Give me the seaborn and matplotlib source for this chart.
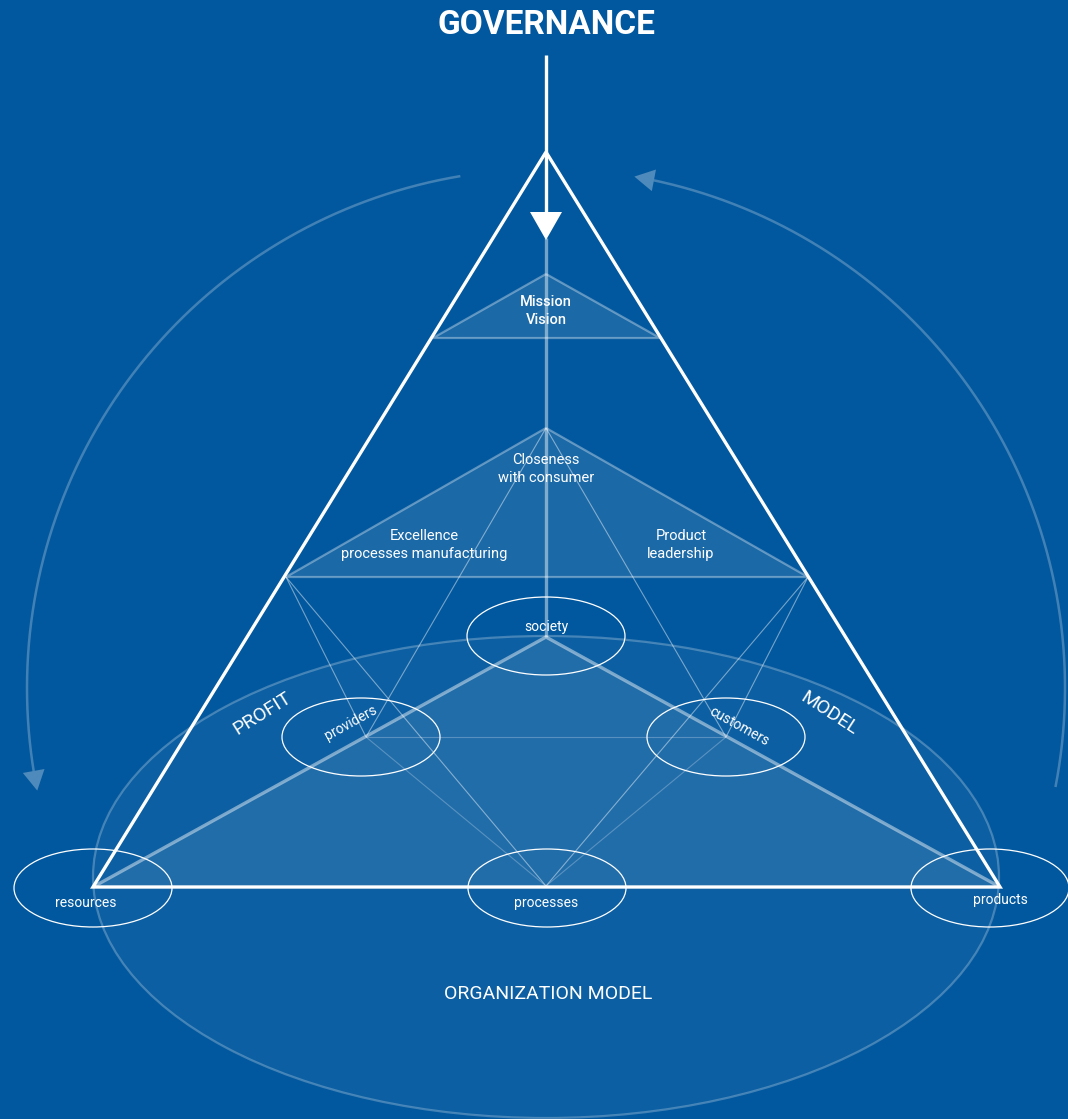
import numpy as np
import matplotlib
matplotlib.use("Agg")
import matplotlib.pyplot as plt
import seaborn as sns
from matplotlib.patches import Ellipse, Polygon

# Diagram geometry (pixel coords, y grows downwards)
outer_x = [546, 93, 1000]
outer_y = [152, 887, 887]

mission_x = [546, 433, 660]
mission_y = [274, 338, 338]

middle_x = [546, 286, 808]
middle_y = [428, 577, 577]

inner_x = [546, 93, 1000]
inner_y = [637, 887, 887]

node_names = ["society", "providers", "customers", "resources", "processes", "products"]
node_x = [546, 361, 726, 93, 547, 990]
node_y = [636, 737, 737, 888, 888, 888]

# where the hidden links meet (providers / customers points)
link_left = (366, 737)
link_right = (726, 737)
link_bottom = (546, 886)

label_x = [546, 351, 739, 86, 546, 1000]
label_y = [627, 723, 727, 903, 903, 900]
label_rot = [0, 29, -29, 0, 0, 0]

level_texts = ["Mission\nVision", "Closeness\nwith consumer",
               "Excellence\nprocesses manufacturing", "Product\nleadership"]
level_x = [546, 546, 424, 681]
level_y = [311, 469, 545, 545]

side_texts = ["PROFIT", "MODEL", "ORGANIZATION MODEL"]
side_x = [262, 829, 548]
side_y = [714, 713, 994]
side_rot = [32, -33, 0]

# cycle arrows around the pyramid (circle centre, radius, angles in degrees)
cycle_cx, cycle_cy, cycle_r = 546, 688, 519
left_arc = (99.5, 189.2, 191.4)   # start, arrow base, arrow tip
right_arc = (-11.0, 78.0, 80.2)

bg = "#02589E"

sns.set_theme(style="white")
plt.rcParams['font.family'] = ['Roboto', 'DejaVu Sans']
plt.rcParams['lines.solid_capstyle'] = 'butt'
plt.rcParams['lines.solid_joinstyle'] = 'miter'


def seg(ax, xs, ys, color="white", lw=1.0, alpha=1.0, z=3):
    sns.lineplot(x=xs, y=ys, sort=False, estimator=None, color=color,
                 linewidth=lw, alpha=alpha, ax=ax, zorder=z)


def closed(xs, ys):
    return list(xs) + [xs[0]], list(ys) + [ys[0]]


def arc_pts(a0, a1):
    t = np.radians(np.linspace(a0, a1, 300))
    return cycle_cx + cycle_r * np.cos(t), cycle_cy - cycle_r * np.sin(t)


def arrow_head(ax, a_base, a_tip, half=11, color="white", alpha=0.3):
    bx, by = arc_pts(a_base, a_base)
    tx, ty = arc_pts(a_tip, a_tip)
    bx, by, tx, ty = bx[0], by[0], tx[0], ty[0]
    d = np.array([tx - bx, ty - by])
    d = d / np.linalg.norm(d)
    n = np.array([-d[1], d[0]])
    pts = [(tx, ty), (bx + n[0] * half, by + n[1] * half), (bx - n[0] * half, by - n[1] * half)]
    ax.add_patch(Polygon(pts, closed=True, facecolor=color, alpha=alpha, edgecolor="none", zorder=2))


fig = plt.figure(figsize=(10.68, 11.19), dpi=100)
fig.patch.set_facecolor(bg)
ax = fig.add_axes([0, 0, 1, 1])
ax.set_facecolor(bg)

# organisation ellipse
ax.add_patch(Ellipse((546, 877), 906, 482, facecolor="white", alpha=0.045,
                     edgecolor="none", zorder=1))
ax.add_patch(Ellipse((546, 877), 906, 482, facecolor="none", edgecolor="white",
                     alpha=0.25, lw=1.6, zorder=1))

# inner (base) triangle
ax.add_patch(Polygon(list(zip(inner_x, inner_y)), closed=True, facecolor="white",
                     alpha=0.09, edgecolor="none", zorder=1))
seg(ax, [inner_x[1], inner_x[0], inner_x[2]], [inner_y[1], inner_y[0], inner_y[2]],
    lw=2.4, alpha=0.45, z=2)

# level triangles
for tx, ty in [(mission_x, mission_y), (middle_x, middle_y)]:
    ax.add_patch(Polygon(list(zip(tx, ty)), closed=True, facecolor="white",
                         alpha=0.1, edgecolor="none", zorder=1))
    cx, cy = closed(tx, ty)
    seg(ax, cx, cy, lw=1.6, alpha=0.35, z=2)

# thin construction links
thin = [
    (middle_x[1], middle_y[1], link_left[0], link_left[1], 0.45),
    (middle_x[1], middle_y[1], link_bottom[0], link_bottom[1], 0.45),
    (middle_x[2], middle_y[2], link_right[0], link_right[1], 0.45),
    (middle_x[2], middle_y[2], link_bottom[0], link_bottom[1], 0.45),
    (middle_x[0], middle_y[0], link_left[0], link_left[1], 0.45),
    (middle_x[0], middle_y[0], link_right[0], link_right[1], 0.45),
    (link_left[0], link_left[1], link_bottom[0], link_bottom[1], 0.25),
    (link_right[0], link_right[1], link_bottom[0], link_bottom[1], 0.25),
    (link_left[0], link_left[1], link_right[0], link_right[1], 0.25),
]
for x0, y0, x1, y1, a in thin:
    seg(ax, [x0, x1], [y0, y1], lw=0.8, alpha=a, z=2)

# faint centre axis
seg(ax, [546, 546], [238, 637], lw=2.4, alpha=0.45, z=2)

# outer pyramid
ox, oy = closed(outer_x, outer_y)
seg(ax, ox, oy, lw=2.4, alpha=1.0, z=4)

# governance arrow
seg(ax, [546, 546], [55, 214], lw=2.4, z=4)
ax.add_patch(Polygon([(530, 212), (562, 212), (546, 240)], closed=True,
                     facecolor="white", edgecolor="none", zorder=4))

# cycle arrows
for a0, ab, at in [left_arc, right_arc]:
    xs, ys = arc_pts(a0, ab)
    seg(ax, list(xs), list(ys), lw=1.8, alpha=0.25, z=1)
    arrow_head(ax, ab, at)

# node ellipses
for nx, ny in zip(node_x, node_y):
    ax.add_patch(Ellipse((nx, ny), 158, 78, facecolor="none", edgecolor="white",
                         lw=0.9, zorder=5))

for name, lx, ly, r in zip(node_names, label_x, label_y, label_rot):
    ax.text(lx, ly, name, color="white", fontsize=10, ha="center", va="center",
            rotation=r, rotation_mode="anchor", zorder=6)

for t, lx, ly in zip(level_texts, level_x, level_y):
    w = "medium" if t.startswith("Mission") else "normal"
    ax.text(lx, ly, t, color="white", fontsize=10.5, ha="center", va="center",
            linespacing=1.3, fontweight=w, zorder=6)

for t, lx, ly, r in zip(side_texts, side_x, side_y, side_rot):
    ax.text(lx, ly, t, color="white", fontsize=14, ha="center", va="center",
            rotation=r, rotation_mode="anchor", zorder=6)

ax.text(546, 25, "GOVERNANCE", color="white", fontsize=24, fontweight="bold",
        ha="center", va="center", zorder=6)

ax.set_xlim(0, 1068)
ax.set_ylim(1119, 0)
ax.set_xlabel("")
ax.set_ylabel("")
ax.axis("off")

fig.savefig("out.png", dpi=100, facecolor=bg)
